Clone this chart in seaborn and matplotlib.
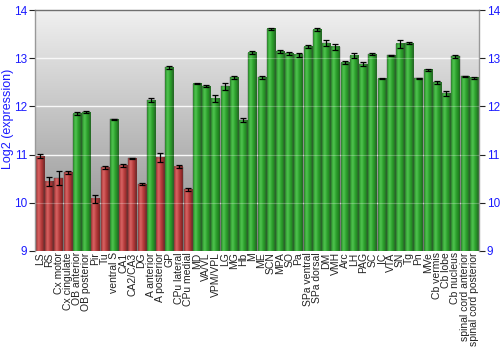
import numpy as np
import pandas as pd
import matplotlib
matplotlib.use("Agg")
import matplotlib.pyplot as plt
import seaborn as sns
from matplotlib.colors import LinearSegmentedColormap

regions = ["LS", "RS", "Cx motor", "Cx cingulate", "OB anterior", "OB posterior", "Pir", "Tu",
           "ventral S", "CA1", "CA2/CA3", "DG", "A anterior", "A posterior", "GP", "CPu lateral",
           "CPu medial", "MD", "VA/VL", "VPM/VPL", "LG", "MG", "Hb", "M", "ME", "SCN", "MPA",
           "SO", "Pa", "SPa ventral", "SPa dorsal", "DM", "VMH", "Arc", "LH", "PAG", "SC", "IC",
           "VTA", "SN", "Tg", "Pn", "MVe", "Cb vermis", "Cb lobe", "Cb nucleus",
           "spinal cord anterior", "spinal cord posterior"]
expression = [10.97, 10.44, 10.51, 10.63, 11.85, 11.88, 10.08, 10.74,
              11.73, 10.78, 10.92, 10.39, 12.13, 10.94, 12.81, 10.75,
              10.28, 12.47, 12.42, 12.16, 12.42, 12.61, 11.72, 13.12, 12.61, 13.61, 13.15,
              13.10, 13.07, 13.24, 13.59, 13.31, 13.24, 12.91, 13.05, 12.88, 13.09, 12.58,
              13.06, 13.30, 13.31, 12.59, 12.76, 12.50, 12.27, 13.04,
              12.63, 12.60]
errors = [0.05, 0.10, 0.14, 0.04, 0.03, 0.02, 0.09, 0.03,
          0.01, 0.03, 0.01, 0.02, 0.04, 0.10, 0.03, 0.03,
          0.03, 0.01, 0.02, 0.07, 0.07, 0.03, 0.04, 0.04, 0.03, 0.02, 0.03,
          0.03, 0.04, 0.03, 0.03, 0.06, 0.06, 0.03, 0.05, 0.04, 0.02, 0.01,
          0.01, 0.08, 0.02, 0.01, 0.02, 0.03, 0.06, 0.03,
          0.01, 0.02]
level = ["low", "low", "low", "low", "high", "high", "low", "low",
         "high", "low", "low", "low", "high", "low", "high", "low",
         "low"] + ["high"] * 31

df = pd.DataFrame({"region": regions, "expression": expression, "err": errors, "level": level})

sns.set_theme(style="white")
plt.rcParams['font.family'] = ['Liberation Sans', 'DejaVu Sans']

fig = plt.figure(figsize=(5, 3.5), dpi=100)
ax = fig.add_axes([0.07, 0.283, 0.888, 0.688])

palette = {"low": "#b83a3a", "high": "#2f9e2f"}
sns.barplot(data=df, x="region", y="expression", hue="level", palette=palette,
            dodge=False, width=0.88, legend=False, ax=ax, errorbar=None)

XL = (-0.55, len(regions) - 0.45)
YL = (9, 14)
ax.set_xlim(*XL)
ax.set_ylim(*YL)

# background gradient
bg = LinearSegmentedColormap.from_list("bg", ["#8a8a8a", "#bdbdbd", "#f0f0f0"])
grad = np.linspace(0, 1, 256).reshape(-1, 1)
ax.imshow(grad, extent=[XL[0], XL[1], YL[0], YL[1]], origin="lower",
          aspect="auto", cmap=bg, zorder=0)

for y in [10, 11, 12, 13]:
    ax.axhline(y, color="#f6f6f6", lw=1.0, zorder=0.5)
    ax.axhline(y, color="white", lw=0.8, alpha=0.25, zorder=2.5)

# cylinder-shaded bars
hgrad = np.linspace(0, 1, 100).reshape(1, -1)
cmaps = {"low": LinearSegmentedColormap.from_list(
             "r", [(0, "#a83434"), (0.3, "#d96464"), (0.6, "#b53b3b"), (1, "#7c2020")]),
         "high": LinearSegmentedColormap.from_list(
             "g", [(0, "#279427"), (0.3, "#50c450"), (0.6, "#2c9f2c"), (1, "#197019")])}
for p in ax.patches:
    x0 = p.get_x(); w = p.get_width(); h = p.get_height(); b = p.get_y()
    cx = x0 + w / 2
    idx = int(round(cx))
    lv = level[idx]
    top = b + h
    p.set_facecolor("none")
    p.set_edgecolor("#4a4a4a")
    p.set_linewidth(0.3)
    p.set_zorder(2)
    ax.imshow(hgrad, extent=[x0, x0 + w, YL[0], top], aspect="auto",
              cmap=cmaps[lv], zorder=1.5, interpolation="bilinear")
    ax.errorbar(cx, top, yerr=errors[idx], color="black", lw=0.9,
                capsize=2, capthick=0.9, zorder=3)

ax.set_xlim(*XL)
ax.set_ylim(*YL)
ax.set_xlabel("")
ax.set_ylabel("Log2 (expression)", color="#1a1aff", fontsize=9)
ax.yaxis.set_label_coords(-0.047, 0.55)
ax.set_yticks([9, 10, 11, 12, 13, 14])
ax.tick_params(axis="y", colors="#1a1aff", labelsize=8.5, length=4, width=0.8,
               left=True, right=True, labelleft=True, labelright=True, direction="out", pad=1.5)
ax.tick_params(axis="y", which="both", color="#222222")
ax.tick_params(axis="x", labelsize=7.5, length=0, pad=1, labelcolor="#222222")
for lab in ax.get_xticklabels():
    lab.set_rotation(90)
    lab.set_verticalalignment("top")
    lab.set_horizontalalignment("center")
for s in ax.spines.values():
    s.set_color("#707070")
    s.set_linewidth(1.0)
ax.spines["bottom"].set_visible(False)
ax.spines["left"].set_color("#999999")
ax.spines["right"].set_color("#999999")

fig.savefig("out.png", dpi=100)
